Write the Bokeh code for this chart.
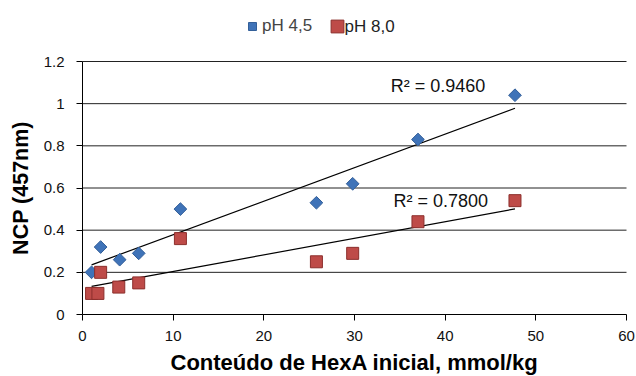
import numpy as np
from bokeh.plotting import figure
from bokeh.models import FixedTicker, Legend, LegendItem, Label
from bokeh.core.properties import value
from bokeh.embed import file_html
from bokeh.resources import INLINE

# HexA content (mmol/kg) and NCP at 457 nm for each pH
x_ph45 = [1.0, 2.0, 4.1, 6.2, 10.8, 25.8, 29.8, 37.0, 47.7]
y_ph45 = [0.20, 0.32, 0.26, 0.29, 0.50, 0.53, 0.62, 0.83, 1.04]
x_ph80 = [1.0, 1.7, 2.0, 4.0, 6.2, 10.8, 25.8, 29.8, 37.0, 47.7]
y_ph80 = [0.10, 0.10, 0.20, 0.13, 0.15, 0.36, 0.25, 0.29, 0.44, 0.54]
series_names = ["pH 4,5", "pH 8,0"]
r2_labels = ["R² = 0.9460", "R² = 0.7800"]
x_ticks = [0, 10, 20, 30, 40, 50, 60]
y_ticks = [0, 0.2, 0.4, 0.6, 0.8, 1, 1.2]
y_tick_text = ["0", "0.2", "0.4", "0.6", "0.8", "1", "1.2"]

FONT = "Liberation Sans"

# The frame covers the whole canvas; both axes are pinned at 0 and bounded,
# so tick labels, axis titles and the legend are all drawn inside it.
W, H = 636, 376
LEFT, RIGHT = 82, 626                    # canvas columns of x = 0 and x = 60
AXIS_TOP, AXIS_BOTTOM = 61, 314          # canvas rows of y = 1.2 and y = 0
ppx = (RIGHT - LEFT) / 60
ppu = (AXIS_BOTTOM - AXIS_TOP) / 1.2
x_rng = (-LEFT / ppx, (W - LEFT) / ppx)
y_rng = (-(H - AXIS_BOTTOM) / ppu, AXIS_BOTTOM / ppu)

p = figure(width=W, height=H, x_range=x_rng, y_range=y_rng,
           output_backend="svg", toolbar_location=None,
           min_border_left=0, min_border_right=0,
           min_border_top=0, min_border_bottom=0)
p.outline_line_color = None
p.background_fill_color = "white"
p.border_fill_color = "white"

p.xaxis.fixed_location = 0
p.yaxis.fixed_location = 0
p.xaxis.bounds = (0, 60)
p.yaxis.bounds = (0, 1.2)
p.xaxis.ticker = FixedTicker(ticks=x_ticks)
p.yaxis.ticker = FixedTicker(ticks=y_ticks)
p.yaxis.major_label_overrides = {t: s for t, s in zip(y_ticks, y_tick_text)}
p.xgrid.grid_line_color = None
p.ygrid.grid_line_color = None

# horizontal gridlines across the 0..60 span
p.segment(x0=0, x1=60, y0=y_ticks[1:], y1=y_ticks[1:],
          line_color="#222222", line_width=1)

for ax in (p.xaxis, p.yaxis):
    ax.axis_line_color = "black"
    ax.major_tick_line_color = "black"
    ax.major_tick_out = 6
    ax.major_tick_in = 0
    ax.minor_tick_line_color = None
    ax.major_label_text_font = FONT
    ax.major_label_text_font_size = "15px"
    ax.major_label_text_color = "#111111"
    ax.axis_label_text_font = FONT
    ax.axis_label_text_font_style = "bold"
    ax.axis_label_text_color = "black"

p.xaxis.axis_label = "Conteúdo de HexA inicial, mmol/kg"
p.yaxis.axis_label = "NCP (457nm)"
p.xaxis.axis_label_text_font_size = "22px"
p.yaxis.axis_label_text_font_size = "21.5px"
p.xaxis.major_label_standoff = 10
p.yaxis.major_label_standoff = 12
p.xaxis.axis_label_standoff = 6
p.yaxis.axis_label_standoff = 8

# linear trend lines over each series' x span
for xs, ys in ((x_ph45, y_ph45), (x_ph80, y_ph80)):
    k, b = np.polyfit(xs, ys, 1)
    xl = np.array([min(xs), max(xs)])
    p.line(xl, k * xl + b, line_color="black", line_width=1.2)

r1 = p.scatter(x_ph45, y_ph45, marker="square", angle=np.pi / 4, size=9,
               fill_color="#3F73B8", line_color="#335F99", line_width=1)
r2 = p.scatter(x_ph80, y_ph80, marker="square", size=12,
               fill_color="#BE4B48", line_color="#8C2F2C", line_width=1)

p.add_layout(Label(x=34.0, y=1.082, text=r2_labels[0], text_font=FONT,
                   text_font_size="18px", text_baseline="middle", text_color="#111111"))
p.add_layout(Label(x=34.3, y=0.54, text=r2_labels[1], text_font=FONT,
                   text_font_size="18px", text_baseline="middle", text_color="#111111"))

# one legend per series so each swatch keeps its own size; the second
# swatch's caption is set as a separate label to sit close to it
LEG_ROW = 26                             # canvas row of the legend centre
legend_style = dict(orientation="horizontal", label_text_font=FONT,
                    label_text_font_size="17px", glyph_height=32,
                    padding=0, margin=0, border_line_color=None,
                    background_fill_alpha=0)
leg1 = Legend(items=[LegendItem(label=series_names[0], renderers=[r1])],
              location=(242, H - LEG_ROW - 16), glyph_width=20,
              label_standoff=0, **legend_style)
leg2 = Legend(items=[LegendItem(label=value(" "), renderers=[r2])],
              location=(321, H - LEG_ROW - 16), glyph_width=32,
              label_standoff=0, **legend_style)
p.add_layout(leg1, "center")
p.add_layout(leg2, "center")
p.add_layout(Label(x=(344 - LEFT) / ppx, y=(AXIS_BOTTOM - LEG_ROW) / ppu,
                   text=series_names[1], text_font=FONT, text_font_size="17px",
                   text_baseline="middle", text_color="#222222"))

open("out.html", "w").write(file_html(p, INLINE))
